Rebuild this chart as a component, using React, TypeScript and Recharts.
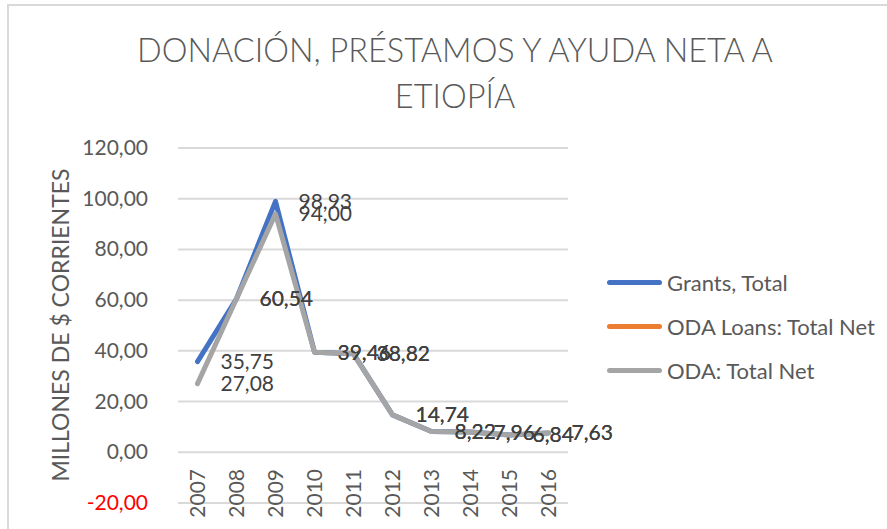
import { CartesianGrid, LabelList, Line, LineChart, XAxis, YAxis } from 'recharts';

const years = ['2007', '2008', '2009', '2010', '2011', '2012', '2013', '2014', '2015', '2016'];
const grants = [35.75, 60.54, 98.93, 39.46, 38.82, 14.74, 8.22, 7.96, 6.84, 7.63];
const loans: (number | null)[] = [null, null, null, null, null, null, null, null, null, null];
const odaNet = [27.08, 60.54, 94.0, 39.46, 38.82, 14.74, 8.22, 7.96, 6.84, 7.63];
const yTicks = [-20, 0, 20, 40, 60, 80, 100, 120];

const series = [
  { key: 'grants', name: 'Grants, Total', color: '#4472C4' },
  { key: 'loans', name: 'ODA Loans: Total Net', color: '#ED7D31' },
  { key: 'oda', name: 'ODA: Total Net', color: '#A5A5A5' },
];

const data = years.map((year, i) => ({
  year,
  grants: grants[i],
  loans: loans[i],
  oda: odaNet[i],
}));

const FONT = 'Lato, "Open Sans", sans-serif';
const fmt = (v: any) => (v == null ? '' : Number(v).toFixed(2).replace('.', ','));

function YTick({ x, y, payload }: any) {
  return (
    <text x={x} y={y} dy={7} textAnchor="end" fontSize={21} fontFamily={FONT} fill={payload.value < 0 ? '#FF0000' : '#595959'}>
      {fmt(payload.value)}
    </text>
  );
}

// category labels hang from the zero line, not from the plot bottom
function XTick({ x, y, payload }: any) {
  return (
    <text
      transform={`translate(${x + 7}, ${y - 34}) rotate(-90)`}
      textAnchor="end"
      fontSize={21}
      fontFamily={FONT}
      fill="#595959"
    >
      {payload.value}
    </text>
  );
}

function LegendBox() {
  return (
    <div style={{ position: 'absolute', left: 607, top: 260, fontFamily: FONT, fontSize: 22, color: '#595959' }}>
      {series.map((s) => (
        <div key={s.key} style={{ display: 'flex', alignItems: 'center', height: 44 }}>
          <span style={{ display: 'inline-block', width: 55, height: 5, borderRadius: 3, background: s.color, marginRight: 5 }} />
          <span>{s.name}</span>
        </div>
      ))}
    </div>
  );
}

export default function App() {
  return (
    <div style={{ position: 'absolute', left: 0, top: 0, width: 887, height: 529, background: '#fff', overflow: 'hidden' }}>
      <div style={{ position: 'absolute', left: 7, top: 4, width: 900, height: 600, borderTop: '2px solid #d9d9d9', borderLeft: '2px solid #d9d9d9' }} />
      <div
        style={{
          position: 'absolute',
          left: 0,
          top: 27,
          width: 910,
          textAlign: 'center',
          fontFamily: FONT,
          fontWeight: 300,
          fontSize: 32.5,
          lineHeight: '46px',
          color: '#595959',
        }}
      >
        DONACIÓN, PRÉSTAMOS Y AYUDA NETA A<br />ETIOPÍA
      </div>
      <div
        style={{
          position: 'absolute',
          left: 60,
          top: 325,
          transform: 'translate(-50%, -50%) rotate(-90deg)',
          whiteSpace: 'nowrap',
          fontFamily: FONT,
          fontSize: 23,
          color: '#595959',
        }}
      >
        MILLONES DE $ CORRIENTES
      </div>
      <LineChart
        width={887}
        height={529}
        data={data}
        margin={{ top: 148, right: 319, bottom: 0, left: 0 }}
        style={{ position: 'absolute', left: 0, top: 0 }}
      >
        <CartesianGrid vertical={false} stroke="#d9d9d9" strokeWidth={2} />
        <XAxis
          dataKey="year"
          height={26}
          padding={{ left: 19.5, right: 19.5 }}
          axisLine={false}
          tickLine={false}
          tickSize={0}
          tickMargin={0}
          tick={<XTick />}
          interval={0}
        />
        <YAxis
          width={178}
          domain={[-20, 120]}
          ticks={yTicks}
          axisLine={false}
          tickLine={false}
          tickSize={0}
          tickMargin={30}
          tick={<YTick />}
        />
        {series.map((s) => (
          <Line
            key={s.key}
            dataKey={s.key}
            name={s.name}
            stroke={s.color}
            strokeWidth={5}
            strokeLinecap="round"
            strokeLinejoin="round"
            dot={false}
            isAnimationActive={false}
          >
            {s.key !== 'loans' && (
              <LabelList dataKey={s.key} position="right" offset={23} formatter={fmt} fontSize={21} fontFamily={FONT} fill="#404040" />
            )}
          </Line>
        ))}
      </LineChart>
      <LegendBox />
    </div>
  );
}
